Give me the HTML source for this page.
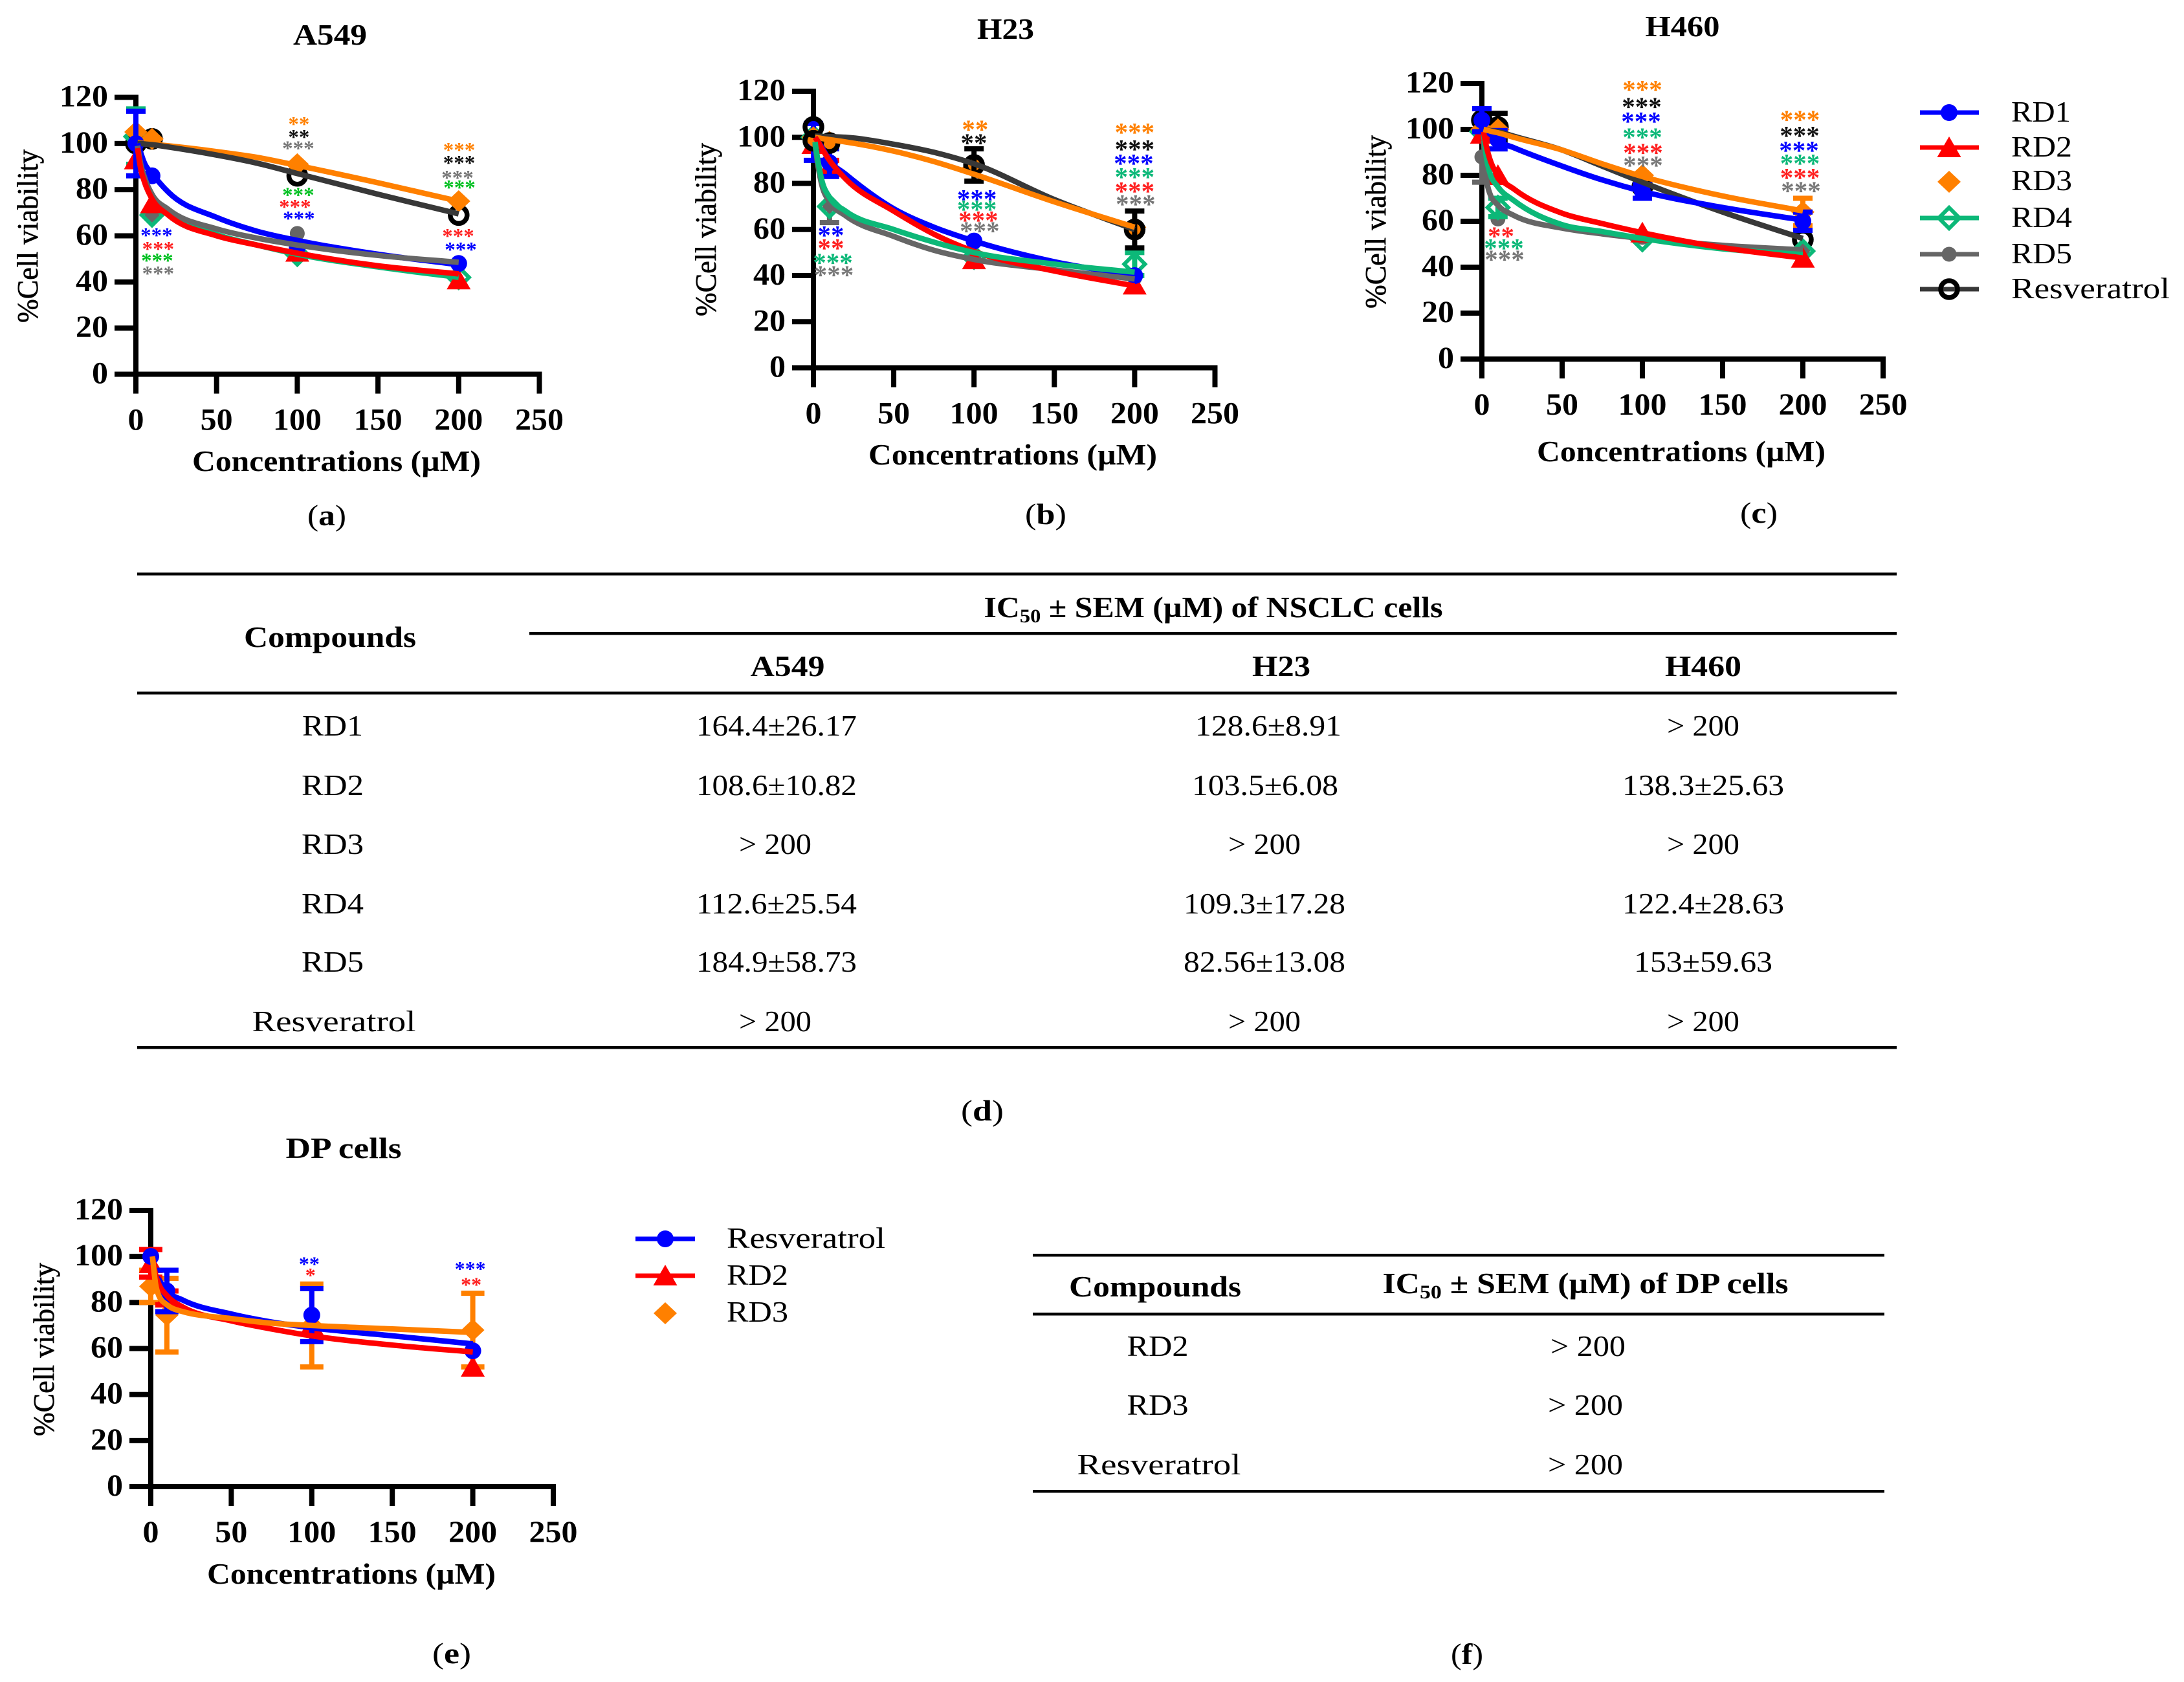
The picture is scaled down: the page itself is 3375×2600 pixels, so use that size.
<!DOCTYPE html>
<html lang="en">
<head>
<meta charset="utf-8">
<title>Cell viability of NSCLC and DP cells</title>
<style>
html,body{margin:0;padding:0;background:#fff;}
svg{display:block;}
text{font-family:"Liberation Serif",serif;fill:#000;}
.b{font-weight:bold;}
.body{font-size:46px;}
</style>
</head>
<body>
<svg id="figure" xmlns="http://www.w3.org/2000/svg" width="3375" height="2600" viewBox="0 0 3375 2600">
<rect width="3375" height="2600" fill="#fff"/>

<g id="charts"></g>

<g>
<text class="body" x="505" y="812" text-anchor="middle" textLength="60" lengthAdjust="spacingAndGlyphs">(<tspan class="b">a</tspan>)</text>
<text class="body" x="1616" y="810" text-anchor="middle" textLength="64" lengthAdjust="spacingAndGlyphs">(<tspan class="b">b</tspan>)</text>
<text class="body" x="2718" y="808" text-anchor="middle" textLength="58" lengthAdjust="spacingAndGlyphs">(<tspan class="b">c</tspan>)</text>
<text class="body" x="1518" y="1732" text-anchor="middle" textLength="66" lengthAdjust="spacingAndGlyphs">(<tspan class="b">d</tspan>)</text>
<text class="body" x="698" y="2571" text-anchor="middle" textLength="60" lengthAdjust="spacingAndGlyphs">(<tspan class="b">e</tspan>)</text>
<text class="body" x="2267" y="2572" text-anchor="middle" textLength="50" lengthAdjust="spacingAndGlyphs">(<tspan class="b">f</tspan>)</text>
</g>

<g>
<rect x="212" y="885" width="2719" height="4.5"/>
<rect x="818" y="977" width="2113" height="4.5"/>
<rect x="212" y="1069" width="2719" height="4.5"/>
<rect x="212" y="1617" width="2719" height="4.5"/>
<text class="body b" x="510" y="1000" text-anchor="middle" textLength="266" lengthAdjust="spacingAndGlyphs">Compounds</text>
<text class="body b" x="1875" y="954" text-anchor="middle" textLength="709" lengthAdjust="spacingAndGlyphs">IC<tspan font-size="30" dy="8">50</tspan><tspan dy="-8"> ± SEM (µM) of NSCLC cells</tspan></text>
<text class="body b" x="1217" y="1045" text-anchor="middle" textLength="115" lengthAdjust="spacingAndGlyphs">A549</text>
<text class="body b" x="1980" y="1045" text-anchor="middle" textLength="90" lengthAdjust="spacingAndGlyphs">H23</text>
<text class="body b" x="2632" y="1045" text-anchor="middle" textLength="118" lengthAdjust="spacingAndGlyphs">H460</text>

<text class="body" x="514" y="1137" text-anchor="middle" textLength="94" lengthAdjust="spacingAndGlyphs">RD1</text>
<text class="body" x="514" y="1229" text-anchor="middle" textLength="96" lengthAdjust="spacingAndGlyphs">RD2</text>
<text class="body" x="514" y="1320" text-anchor="middle" textLength="96" lengthAdjust="spacingAndGlyphs">RD3</text>
<text class="body" x="514" y="1412" text-anchor="middle" textLength="96" lengthAdjust="spacingAndGlyphs">RD4</text>
<text class="body" x="514" y="1502" text-anchor="middle" textLength="96" lengthAdjust="spacingAndGlyphs">RD5</text>
<text class="body" x="516" y="1594" text-anchor="middle" textLength="253" lengthAdjust="spacingAndGlyphs">Resveratrol</text>

<text class="body" x="1200" y="1137" text-anchor="middle" textLength="248" lengthAdjust="spacingAndGlyphs">164.4±26.17</text>
<text class="body" x="1200" y="1229" text-anchor="middle" textLength="248" lengthAdjust="spacingAndGlyphs">108.6±10.82</text>
<text class="body" x="1198" y="1320" text-anchor="middle" textLength="112" lengthAdjust="spacingAndGlyphs">&gt; 200</text>
<text class="body" x="1200" y="1412" text-anchor="middle" textLength="248" lengthAdjust="spacingAndGlyphs">112.6±25.54</text>
<text class="body" x="1200" y="1502" text-anchor="middle" textLength="248" lengthAdjust="spacingAndGlyphs">184.9±58.73</text>
<text class="body" x="1198" y="1594" text-anchor="middle" textLength="112" lengthAdjust="spacingAndGlyphs">&gt; 200</text>

<text class="body" x="1960" y="1137" text-anchor="middle" textLength="226" lengthAdjust="spacingAndGlyphs">128.6±8.91</text>
<text class="body" x="1955" y="1229" text-anchor="middle" textLength="226" lengthAdjust="spacingAndGlyphs">103.5±6.08</text>
<text class="body" x="1954" y="1320" text-anchor="middle" textLength="112" lengthAdjust="spacingAndGlyphs">&gt; 200</text>
<text class="body" x="1954" y="1412" text-anchor="middle" textLength="250" lengthAdjust="spacingAndGlyphs">109.3±17.28</text>
<text class="body" x="1954" y="1502" text-anchor="middle" textLength="250" lengthAdjust="spacingAndGlyphs">82.56±13.08</text>
<text class="body" x="1954" y="1594" text-anchor="middle" textLength="112" lengthAdjust="spacingAndGlyphs">&gt; 200</text>

<text class="body" x="2632" y="1137" text-anchor="middle" textLength="112" lengthAdjust="spacingAndGlyphs">&gt; 200</text>
<text class="body" x="2632" y="1229" text-anchor="middle" textLength="250" lengthAdjust="spacingAndGlyphs">138.3±25.63</text>
<text class="body" x="2632" y="1320" text-anchor="middle" textLength="112" lengthAdjust="spacingAndGlyphs">&gt; 200</text>
<text class="body" x="2632" y="1412" text-anchor="middle" textLength="250" lengthAdjust="spacingAndGlyphs">122.4±28.63</text>
<text class="body" x="2632" y="1502" text-anchor="middle" textLength="214" lengthAdjust="spacingAndGlyphs">153±59.63</text>
<text class="body" x="2632" y="1594" text-anchor="middle" textLength="112" lengthAdjust="spacingAndGlyphs">&gt; 200</text>
</g>

<g>
<rect x="1596" y="1938" width="1316" height="4.5"/>
<rect x="1596" y="2029" width="1316" height="4.5"/>
<rect x="1596" y="2303" width="1316" height="4.5"/>
<text class="body b" x="1785" y="2004" text-anchor="middle" textLength="266" lengthAdjust="spacingAndGlyphs">Compounds</text>
<text class="body b" x="2450" y="1999" text-anchor="middle" textLength="627" lengthAdjust="spacingAndGlyphs">IC<tspan font-size="30" dy="8">50</tspan><tspan dy="-8"> ± SEM (µM) of DP cells</tspan></text>
<text class="body" x="1789" y="2096" text-anchor="middle" textLength="95" lengthAdjust="spacingAndGlyphs">RD2</text>
<text class="body" x="1789" y="2187" text-anchor="middle" textLength="95" lengthAdjust="spacingAndGlyphs">RD3</text>
<text class="body" x="1791" y="2279" text-anchor="middle" textLength="253" lengthAdjust="spacingAndGlyphs">Resveratrol</text>
<text class="body" x="2454" y="2096" text-anchor="middle" textLength="116" lengthAdjust="spacingAndGlyphs">&gt; 200</text>
<text class="body" x="2450" y="2187" text-anchor="middle" textLength="116" lengthAdjust="spacingAndGlyphs">&gt; 200</text>
<text class="body" x="2450" y="2279" text-anchor="middle" textLength="116" lengthAdjust="spacingAndGlyphs">&gt; 200</text>
</g>
</svg>

<script>
// Shared axes
const xTicks = [0, 50, 100, 150, 200, 250];
const yTicks = [0, 20, 40, 60, 80, 100, 120];
const doses = [0, 10, 100, 200];
const fitDoses = [1, 3, 5, 10, 20, 50, 75, 100, 150, 200];

// Panel (a) A549: measured points
const a549RD1 = [100, 86, 55, 48];
const a549RD2 = [93, 74, 53, 41];
const a549RD3 = [105, 102, 91, 75];
const a549RD4 = [103, 69, 52, 42];
const a549RD5 = [105, 69, 61, 48];
const a549Res = [100, 102, 86, 69];
const a549RD1Err = [14, 0, 0, 0];
const a549RD2Err = [0, 0, 0, 0];
const a549RD3Err = [0, 0, 0, 0];
const a549RD4Err = [12, 0, 0, 0];
const a549RD5Err = [0, 0, 0, 0];
const a549ResErr = [0, 0, 0, 0];
// Panel (a) fitted curves
const a549RD1Fit = [100, 96, 92, 87, 79, 68, 62, 58, 52, 47.5];
const a549RD2Fit = [98, 89, 84, 76, 69, 60, 56, 52.5, 47, 43.5];
const a549RD3Fit = [100.5, 100.3, 100, 99.7, 99, 96.5, 94, 90.5, 83, 75];
const a549RD4Fit = [99, 90, 85, 77, 70, 60.5, 56, 52, 46.5, 42];
const a549RD5Fit = [99, 91, 86, 78, 71.5, 63, 59, 56, 51.5, 48.5];
const a549ResFit = [100, 100, 99.8, 99.5, 98.5, 95, 91.5, 87, 78, 69.5];
// Panel (a) significance marks
const a549StarX = [12.8, 13.8, 13.2, 13.8, 101, 101, 100.6, 100.6, 98.6, 101, 200.3, 200.3, 199.3, 200.5, 199.7, 201.3];
const a549StarY = [61.6, 55.7, 50.6, 45, 109.8, 104.2, 99.2, 79, 73.9, 68.9, 98.5, 93, 86.5, 82.3, 61.3, 55.4];
const a549StarText = ['***', '***', '***', '***', '**', '**', '***', '***', '***', '***', '***', '***', '***', '***', '***', '***'];
const a549StarSeries = ['RD1', 'RD2', 'STARGREEN', 'RD5', 'RD3', 'Res', 'RD5', 'STARGREEN', 'RD2', 'RD1', 'RD3', 'Res', 'RD5', 'STARGREEN', 'RD2', 'RD1'];

// Panel (b) H23: measured points
const h23RD1 = [98, 89, 55, 40];
const h23RD2 = [97, 87, 47, 36];
const h23RD3 = [100, 98, 87, 61];
const h23RD4 = [100, 70, 48, 45];
const h23RD5 = [100, 71, 47, 39];
const h23Res = [104.5, 97.5, 88, 60];
const h23ResRepeatDose = [0];
const h23ResRepeatValue = [98.5];
const h23RD1Err = [8, 6, 0, 0];
const h23RD2Err = [0, 3, 0, 0];
const h23RD3Err = [0, 0, 0, 0];
const h23RD4Err = [0, 0, 0, 5];
const h23RD5ErrBelow = [0, 8, 0, 0];
const h23ResErr = [0, 0, 7, 8];
// Panel (b) fitted curves
const h23RD1Fit = [100, 98, 96, 90, 84, 69, 61, 55, 46, 40];
const h23RD2Fit = [100, 98, 95.5, 90, 82, 68, 58, 50.5, 42, 35.5];
const h23RD3Fit = [100, 99.8, 99.5, 99, 98, 94, 89.5, 84, 72, 61];
const h23RD4Fit = [98, 89, 82, 74, 68, 60, 54.5, 50, 45, 41.5];
const h23RD5Fit = [97, 87, 80, 72, 66, 57, 51, 47, 42.5, 38.5];
const h23ResFit = [100.5, 100.5, 100.4, 100.3, 100, 97, 93.5, 88.5, 73, 60];
// Panel (b) significance marks
const h23StarX = [10.9, 10.9, 12.1, 12.7, 100.7, 99.9, 101.8, 101.8, 102.7, 103.5, 200, 200, 199.4, 200, 200, 200.6];
const h23StarY = [59.1, 53.5, 47.3, 41.9, 105, 99.2, 74.9, 70.4, 65.6, 61, 103.8, 96.5, 90.3, 84.4, 78.2, 72.6];
const h23StarText = ['**', '**', '***', '***', '**', '**', '***', '***', '***', '***', '***', '***', '***', '***', '***', '***'];
const h23StarSeries = ['RD1', 'RD2', 'RD4', 'RD5', 'RD3', 'Res', 'RD1', 'RD4', 'RD2', 'RD5', 'RD3', 'Res', 'RD1', 'RD4', 'RD2', 'RD5'];

// Panel (c) H460: measured points
const h460RD1 = [104, 95.5, 73, 60];
const h460RD2 = [98, 80, 55, 44];
const h460RD3 = [100, 100, 80, 64];
const h460RD4 = [99, 66, 52, 47];
const h460RD5 = [88, 61, 53, 48];
const h460Res = [104, 101, 75, 52];
const h460RD1Err = [5, 4, 3, 4];
const h460RD2Err = [0, 0, 0, 0];
const h460RD3Err = [0, 0, 0, 6];
const h460RD4Err = [0, 4, 0, 0];
const h460RD5ErrBelow = [11, 0, 0, 0];
const h460ResErr = [0, 6, 0, 0];
// Panel (c) fitted curves
const h460RD1Fit = [100, 99, 98, 95, 92, 84, 78, 73, 66, 60.5];
const h460RD2Fit = [99, 92, 87, 80, 74, 63.5, 59, 55, 48.5, 44];
const h460RD3Fit = [100, 99.7, 99.3, 98.5, 96.5, 91, 85, 79.5, 71, 64.5];
const h460RD4Fit = [98, 87, 81, 75, 69, 58.5, 55.5, 52.5, 48, 45.5];
const h460RD5Fit = [95, 78, 72, 67, 62.5, 57, 54.5, 52.5, 49.5, 47.5];
const h460ResFit = [100, 99.8, 99.5, 99, 97, 91, 84, 77, 64, 52.5];
// Panel (c) significance marks
const h460StarX = [11.9, 13.7, 14.1, 100, 99.6, 99.2, 100, 100.4, 100.4, 198.2, 198, 197.6, 198.2, 198.2, 198.8];
const h460StarY = [55.2, 50, 45, 118.9, 111.5, 105.2, 98.3, 91.5, 86, 105.9, 98.9, 92.5, 86.8, 80.6, 74.9];
const h460StarText = ['**', '***', '***', '***', '***', '***', '***', '***', '***', '***', '***', '***', '***', '***', '***'];
const h460StarSeries = ['RD2', 'RD4', 'RD5', 'RD3', 'Res', 'RD1', 'RD4', 'RD2', 'RD5', 'RD3', 'Res', 'RD1', 'RD4', 'RD2', 'RD5'];

// Panel (e) DP cells: measured points
const dpRes = [100, 85, 74.5, 59];
const dpRD2 = [97, 82, 70, 52];
const dpRD3 = [87, 74.5, 70, 68];
const dpResErr = [0, 9, 11.5, 0];
const dpRD2Err = [6, 3, 0, 0];
const dpRD3Err = [7, 16, 18, 16];
// Panel (e) fitted curves
const dpResFit = [100, 92, 90, 85, 81, 75, 71.5, 69, 65.5, 62];
const dpRD2Fit = [100, 92, 88, 83, 78, 72, 68.5, 65.5, 61.5, 58.5];
const dpRD3Fit = [100, 88, 83, 79, 76, 73, 71, 70, 68.5, 67];
// Panel (e) significance marks
const dpStarX = [98.4, 99.2, 198.4, 199];
const dpStarY = [97.9, 93.1, 95.9, 89];
const dpStarText = ['**', '*', '***', '**'];
const dpStarSeries = ['DPRES', 'RD2', 'DPRES', 'RD2'];

const NS = 'http://www.w3.org/2000/svg';
const root = document.getElementById('charts');

const look = {
  RD1: {line: '#0000ff', mark: '#0000ff', shape: 'circle', label: 'RD1', star: '#0000ff'},
  RD2: {line: '#ff0000', mark: '#ff0000', shape: 'triangle', label: 'RD2', star: '#ff2020'},
  RD3: {line: '#ff8000', mark: '#ff8000', shape: 'diamond', label: 'RD3', star: '#ff8000'},
  RD4: {line: '#0cb878', mark: '#0cb878', shape: 'hollow-diamond', label: 'RD4', star: '#0cb878'},
  RD5: {line: '#666666', mark: '#666666', shape: 'small-circle', label: 'RD5', star: '#777777'},
  Res: {line: '#383838', mark: '#000000', shape: 'ring', label: 'Resveratrol', star: '#111111'},
  DPRES: {line: '#0000ff', mark: '#0000ff', shape: 'circle', label: 'Resveratrol', star: '#0000ff'},
  STARGREEN: {star: '#00c020'}
};

function node(tag, parent, attrs) {
  const el = document.createElementNS(NS, tag);
  for (const k in attrs) el.setAttribute(k, attrs[k]);
  parent.appendChild(el);
  return el;
}

function addText(parent, name, str, attrs) {
  const el = node('text', parent, attrs);
  
  
  el.textContent = str;
  return el;
}

function addGroup(parent, name) {
  const el = node('g', parent, {});
  
  
  return el;
}

function addRect(parent, name, attrs) {
  const el = node('rect', parent, attrs);
  
  
  return el;
}

function drawMarker(parent, name, style, cx, cy) {
  let el;
  if (style.shape === 'circle') {
    el = node('circle', parent, {cx: cx, cy: cy, r: 13, fill: style.mark});
  } else if (style.shape === 'small-circle') {
    el = node('circle', parent, {cx: cx, cy: cy, r: 11.5, fill: style.mark});
  } else if (style.shape === 'ring') {
    el = node('circle', parent, {cx: cx, cy: cy, r: 13, fill: 'none', stroke: style.mark, 'stroke-width': 7.5});
  } else if (style.shape === 'triangle') {
    el = node('path', parent, {d: 'M' + cx + ' ' + (cy - 17) + 'L' + (cx + 18.5) + ' ' + (cy + 15) + 'L' + (cx - 18.5) + ' ' + (cy + 15) + 'Z', fill: style.mark});
  } else if (style.shape === 'diamond') {
    el = node('path', parent, {d: 'M' + cx + ' ' + (cy - 17) + 'L' + (cx + 18) + ' ' + cy + 'L' + cx + ' ' + (cy + 17) + 'L' + (cx - 18) + ' ' + cy + 'Z', fill: style.mark});
  } else {
    el = node('path', parent, {d: 'M' + cx + ' ' + (cy - 16) + 'L' + (cx + 16) + ' ' + cy + 'L' + cx + ' ' + (cy + 16) + 'L' + (cx - 16) + ' ' + cy + 'Z', fill: 'none', stroke: style.mark, 'stroke-width': 6});
  }
  
  
  return el;
}

function monotonePath(pts) {
  const n = pts.length;
  const h = [], s = [], t = [];
  for (let i = 0; i < n - 1; i++) {
    h[i] = pts[i + 1][0] - pts[i][0];
    s[i] = (pts[i + 1][1] - pts[i][1]) / h[i];
  }
  for (let i = 1; i < n - 1; i++) {
    const p = (s[i - 1] * h[i] + s[i] * h[i - 1]) / (h[i - 1] + h[i]);
    t[i] = (Math.sign(s[i - 1]) + Math.sign(s[i])) * Math.min(Math.abs(s[i - 1]), Math.abs(s[i]), 0.5 * Math.abs(p));
  }
  t[0] = s[0];
  t[n - 1] = s[n - 2];
  let d = 'M' + pts[0][0].toFixed(1) + ' ' + pts[0][1].toFixed(1);
  for (let i = 0; i < n - 1; i++) {
    const c = h[i] / 3;
    d += 'C' + (pts[i][0] + c).toFixed(1) + ' ' + (pts[i][1] + t[i] * c).toFixed(1) + ' ' +
      (pts[i + 1][0] - c).toFixed(1) + ' ' + (pts[i + 1][1] - t[i + 1] * c).toFixed(1) + ' ' +
      pts[i + 1][0].toFixed(1) + ' ' + pts[i + 1][1].toFixed(1);
  }
  return d;
}

function drawPanel(p) {
  const g = addGroup(root, 'chart-' + p.id);
  const xScale = v => p.x0 + (v / 250) * (p.x250 - p.x0);
  const yScale = v => p.y0 - (v / 120) * (p.y0 - p.y120);

  addText(g, p.id + '-title', p.title, {x: p.titleX, y: p.titleY, class: 'b', 'font-size': 46, 'text-anchor': 'middle', textLength: p.titleW, lengthAdjust: 'spacingAndGlyphs'});
  addText(g, p.id + '-x-axis-title', 'Concentrations (µM)', {x: p.xtX, y: p.xtY, class: 'b', 'font-size': 46, 'text-anchor': 'middle', textLength: 446, lengthAdjust: 'spacingAndGlyphs'});
  addText(g, p.id + '-y-axis-title', '%Cell viability', {x: 0, y: 0, transform: 'translate(' + p.ytX + ' ' + p.ytY + ') rotate(-90)', 'font-size': 46, 'text-anchor': 'middle', textLength: 268, lengthAdjust: 'spacingAndGlyphs', stroke: '#000', 'stroke-width': 0.6});

  // Axes
  const axes = addGroup(g, p.id + '-axes');
  addRect(axes, p.id + '-y-axis', {x: p.x0 - 4, y: yScale(120) - 4, width: 8, height: p.y0 - yScale(120) + 34});
  addRect(axes, p.id + '-x-axis', {x: p.x0 - 33, y: p.y0 - 4, width: xScale(250) - p.x0 + 37, height: 8});
  yTicks.forEach(v => {
    addRect(axes, p.id + '-y-tick-' + v, {x: p.x0 - 33, y: yScale(v) - 4, width: 33, height: 8});
    addText(axes, p.id + '-y-tick-label-' + v, String(v), {x: p.x0 - 43, y: yScale(v) + 14, class: 'b', 'font-size': 48, 'text-anchor': 'end', textLength: String(v).length * 25, lengthAdjust: 'spacingAndGlyphs'});
  });
  xTicks.forEach(v => {
    addRect(axes, p.id + '-x-tick-' + v, {x: xScale(v) - 4, y: p.y0, width: 8, height: 30});
    addText(axes, p.id + '-x-tick-label-' + v, String(v), {x: xScale(v), y: p.y0 + 86, class: 'b', 'font-size': 48, 'text-anchor': 'middle', textLength: String(v).length * 25, lengthAdjust: 'spacingAndGlyphs'});
  });

  // Error bars and markers
  const marks = addGroup(g, p.id + '-data-points');
  p.markOrder.forEach(key => {
    const s = p.series[key];
    const style = look[key];
    doses.forEach((dose, i) => {
      const cx = xScale(dose);
      const spread = s.err ? s.err[i] : s.errBelow[i];
      if (spread > 0) {
        const lo = yScale(s.values[i] - spread);
        const hi = s.err ? yScale(s.values[i] + spread) : yScale(s.values[i]);
        const eg = addGroup(marks, p.id + '-' + key + '-error-bar-' + dose);
        node('rect', eg, {x: cx - 4, y: hi, width: 8, height: lo - hi, fill: style.mark});
        if (s.err) node('rect', eg, {x: cx - p.cap, y: hi - 4, width: p.cap * 2, height: 8, fill: style.mark});
        node('rect', eg, {x: cx - p.cap, y: lo - 4, width: p.cap * 2, height: 8, fill: style.mark});
      }
      drawMarker(marks, p.id + '-' + key + '-point-' + dose, style, cx, yScale(s.values[i]));
    });
    if (s.repeatDose) {
      s.repeatDose.forEach((dose, i) => {
        drawMarker(marks, p.id + '-' + key + '-repeat-point-' + dose, style, xScale(dose), yScale(s.repeatValue[i]));
      });
    }
  });

  // Fit curves
  const curves = addGroup(g, p.id + '-fit-curves');
  p.curveOrder.forEach(key => {
    const s = p.series[key];
    const pts = fitDoses.map((dose, i) => [xScale(dose), yScale(s.fit[i])]);
    const path = node('path', curves, {d: monotonePath(pts), fill: 'none', stroke: look[key].line, 'stroke-width': 8.5});
    
    
  });

  // Significance marks
  const stars = addGroup(g, p.id + '-significance-marks');
  p.starX.forEach((v, i) => {
    addText(stars, p.id + '-significance-' + i, p.starText[i], {
      x: xScale(v), y: yScale(p.starY[i]) + p.starSize * 0.47,
      class: 'b', 'font-size': p.starSize, 'text-anchor': 'middle',
      style: 'fill:' + look[p.starSeries[i]].star
    });
  });
}

function drawLegend(name, keys, lineX1, lineX2, markX, textX, ys, baselines, widths) {
  const g = addGroup(root, name);
  keys.forEach((key, i) => {
    const style = look[key];
    const entry = addGroup(g, 'legend-entry-' + style.label.toLowerCase());
    if (key !== 'RD3') {
      const ln = node('rect', entry, {x: lineX1, y: ys[i] - 3.5, width: lineX2 - lineX1, height: 7, fill: style.line});
      
      
    }
    drawMarker(entry, 'legend-marker', style, markX, ys[i]);
    addText(entry, 'legend-label', style.label, {x: textX, y: baselines[i], 'font-size': 46, textLength: widths[i], lengthAdjust: 'spacingAndGlyphs'});
  });
}

drawPanel({
  id: 'a549', title: 'A549', titleX: 510, titleY: 69, titleW: 114,
  x0: 210, x250: 833.5, y0: 578.5, y120: 150.5, cap: 15,
  xtX: 520, xtY: 728, ytX: 58, ytY: 365,
  series: {
    RD1: {values: a549RD1, err: a549RD1Err, fit: a549RD1Fit},
    RD2: {values: a549RD2, err: a549RD2Err, fit: a549RD2Fit},
    RD3: {values: a549RD3, err: a549RD3Err, fit: a549RD3Fit},
    RD4: {values: a549RD4, err: a549RD4Err, fit: a549RD4Fit},
    RD5: {values: a549RD5, err: a549RD5Err, fit: a549RD5Fit},
    Res: {values: a549Res, err: a549ResErr, fit: a549ResFit}
  },
  markOrder: ['Res', 'RD5', 'RD4', 'RD3', 'RD2', 'RD1'],
  curveOrder: ['RD3', 'Res', 'RD1', 'RD4', 'RD5', 'RD2'],
  starX: a549StarX, starY: a549StarY, starText: a549StarText, starSeries: a549StarSeries, starSize: 33
});

drawPanel({
  id: 'h23', title: 'H23', titleX: 1554, titleY: 60, titleW: 88,
  x0: 1257, x250: 1877.5, y0: 568.5, y120: 141, cap: 15,
  xtX: 1565, xtY: 718, ytX: 1106, ytY: 355,
  series: {
    RD1: {values: h23RD1, err: h23RD1Err, fit: h23RD1Fit},
    RD2: {values: h23RD2, err: h23RD2Err, fit: h23RD2Fit},
    RD3: {values: h23RD3, err: h23RD3Err, fit: h23RD3Fit},
    RD4: {values: h23RD4, err: h23RD4Err, fit: h23RD4Fit},
    RD5: {values: h23RD5, errBelow: h23RD5ErrBelow, fit: h23RD5Fit},
    Res: {values: h23Res, err: h23ResErr, fit: h23ResFit, repeatDose: h23ResRepeatDose, repeatValue: h23ResRepeatValue}
  },
  markOrder: ['RD5', 'RD4', 'RD2', 'RD1', 'RD3', 'Res'],
  curveOrder: ['Res', 'RD3', 'RD1', 'RD5', 'RD2', 'RD4'],
  starX: h23StarX, starY: h23StarY, starText: h23StarText, starSeries: h23StarSeries, starSize: 41
});

drawPanel({
  id: 'h460', title: 'H460', titleX: 2600, titleY: 56, titleW: 115,
  x0: 2290, x250: 2910, y0: 555, y120: 129, cap: 15,
  xtX: 2598, xtY: 713, ytX: 2141, ytY: 343,
  series: {
    RD1: {values: h460RD1, err: h460RD1Err, fit: h460RD1Fit},
    RD2: {values: h460RD2, err: h460RD2Err, fit: h460RD2Fit},
    RD3: {values: h460RD3, err: h460RD3Err, fit: h460RD3Fit},
    RD4: {values: h460RD4, err: h460RD4Err, fit: h460RD4Fit},
    RD5: {values: h460RD5, errBelow: h460RD5ErrBelow, fit: h460RD5Fit},
    Res: {values: h460Res, err: h460ResErr, fit: h460ResFit}
  },
  markOrder: ['Res', 'RD5', 'RD4', 'RD3', 'RD2', 'RD1'],
  curveOrder: ['Res', 'RD1', 'RD5', 'RD4', 'RD2', 'RD3'],
  starX: h460StarX, starY: h460StarY, starText: h460StarText, starSeries: h460StarSeries, starSize: 41
});

drawPanel({
  id: 'dp', title: 'DP cells', titleX: 531, titleY: 1790, titleW: 179,
  x0: 233, x250: 855, y0: 2298, y120: 1871, cap: 18,
  xtX: 543, xtY: 2448, ytX: 83, ytY: 2086,
  series: {
    DPRES: {values: dpRes, err: dpResErr, fit: dpResFit},
    RD2: {values: dpRD2, err: dpRD2Err, fit: dpRD2Fit},
    RD3: {values: dpRD3, err: dpRD3Err, fit: dpRD3Fit}
  },
  markOrder: ['RD3', 'RD2', 'DPRES'],
  curveOrder: ['DPRES', 'RD2', 'RD3'],
  starX: dpStarX, starY: dpStarY, starText: dpStarText, starSeries: dpStarSeries, starSize: 32
});

drawLegend('legend-nsclc', ['RD1', 'RD2', 'RD3', 'RD4', 'RD5', 'Res'], 2967, 3058, 3012,
  3108, [174, 228, 281, 337, 393, 447], [188, 242, 294, 351, 407, 461], [92, 94, 94, 94, 94, 245]);
drawLegend('legend-dp', ['DPRES', 'RD2', 'RD3'], 982, 1074, 1028,
  1123, [1915, 1972, 2030], [1929, 1986, 2043], [245, 95, 95]);
</script>
</body>
</html>
